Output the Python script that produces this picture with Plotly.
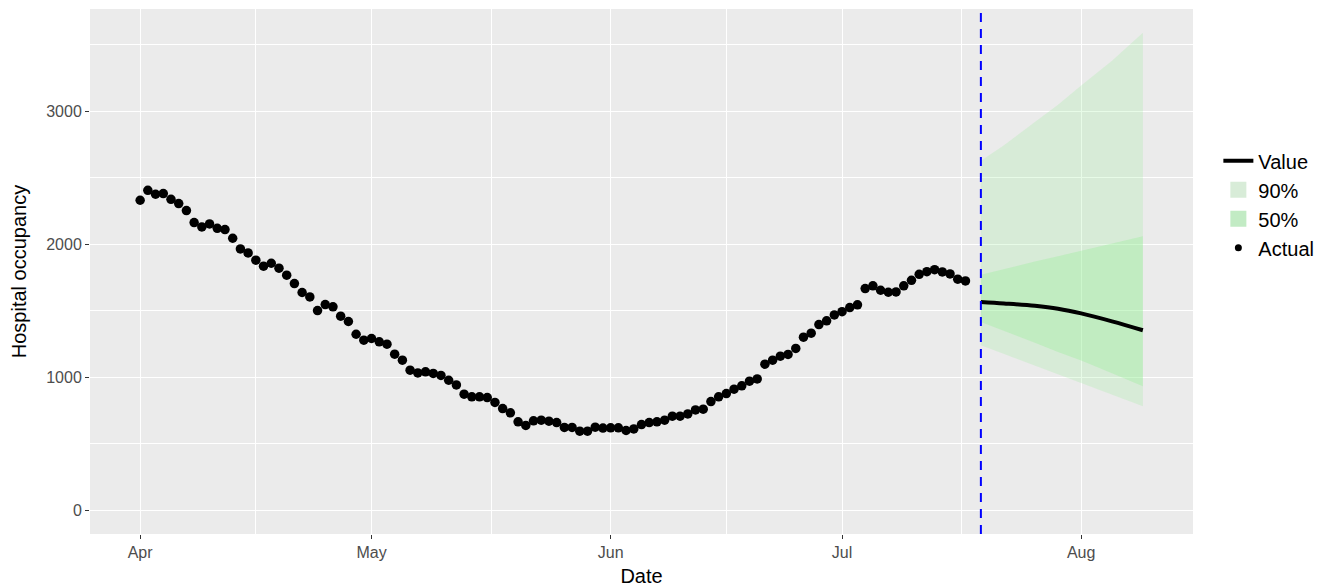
import pandas as pd
import plotly.graph_objects as go

# ---------------- data ----------------
actual_start = "2020-04-01"
actual_values = [
    2331, 2406, 2376, 2381, 2338, 2306, 2253, 2163, 2130, 2153,
    2120, 2110, 2045, 1965, 1935, 1880, 1835, 1857, 1820, 1767,
    1704, 1637, 1604, 1501, 1546, 1529, 1459, 1419, 1323, 1278,
    1291, 1266, 1248, 1173, 1128, 1053, 1032, 1040, 1028, 1013,
    977, 942, 872, 852, 852, 847, 810, 764, 732, 664,
    637, 672, 677, 669, 659, 622, 622, 594, 594, 624,
    617, 619, 619, 599, 611, 644, 659, 664, 677, 707,
    707, 724, 754, 759, 817, 852, 877, 910, 935, 970,
    987, 1098, 1128, 1158, 1171, 1216, 1301, 1331, 1396, 1424,
    1468, 1493, 1524, 1544, 1667, 1687, 1654, 1639, 1641, 1687,
    1729, 1774, 1794, 1809, 1792, 1777, 1737, 1724,
]
actual_dates = pd.date_range(actual_start, periods=len(actual_values), freq="D")

forecast_dates = pd.to_datetime([
    "2020-07-19", "2020-07-22", "2020-07-26", "2020-07-29",
    "2020-08-01", "2020-08-05", "2020-08-09",
])
forecast_value = [1566, 1555, 1537, 1515, 1480, 1420, 1353]
upper_90 = [2628, 2745, 2920, 3050, 3195, 3380, 3590]
lower_90 = [1241, 1175, 1090, 1025, 960, 870, 782]
upper_50 = [1770, 1815, 1870, 1910, 1950, 2005, 2060]
lower_50 = [1416, 1350, 1260, 1190, 1125, 1030, 932]

month_ticks = pd.to_datetime(["2020-04-01", "2020-05-01", "2020-06-01", "2020-07-01", "2020-08-01"])
month_labels = ["Apr", "May", "Jun", "Jul", "Aug"]
y_ticks = [0, 1000, 2000, 3000]

# ---------------- styles ----------------
FONT = "Liberation Sans, Arial, sans-serif"
BG = "#EBEBEB"
FILL_90 = "rgba(144,238,144,0.22)"
FILL_50 = "rgba(144,238,144,0.30)"
KEY_90 = "#D8ECD8"
KEY_50 = "#C2EBC4"

# x range: ggplot default 5% expansion
x_min = actual_dates[0]
x_max = forecast_dates[-1]
span = x_max - x_min
x_range = [x_min - span * 0.05, x_max + span * 0.05]
y_lo, y_hi = 0, max(upper_90)
y_range = [y_lo - (y_hi - y_lo) * 0.05, y_hi + (y_hi - y_lo) * 0.05]

# minor breaks midway between major breaks
all_major = [month_ticks[0] - pd.DateOffset(months=1)] + list(month_ticks) + [month_ticks[-1] + pd.DateOffset(months=1)]
minor_x = [a + (b - a) / 2 for a, b in zip(all_major[:-1], all_major[1:])]

fig = go.Figure()

# 90% ribbon
fig.add_trace(go.Scatter(x=forecast_dates, y=lower_90, mode="lines",
                         line=dict(width=0, color=FILL_90), showlegend=False, hoverinfo="skip"))
fig.add_trace(go.Scatter(x=forecast_dates, y=upper_90, mode="lines", fill="tonexty",
                         fillcolor=FILL_90, line=dict(width=0, color=FILL_90),
                         showlegend=False, legendgroup="g90"))
# 50% ribbon
fig.add_trace(go.Scatter(x=forecast_dates, y=lower_50, mode="lines",
                         line=dict(width=0, color=FILL_50), showlegend=False, hoverinfo="skip"))
fig.add_trace(go.Scatter(x=forecast_dates, y=upper_50, mode="lines", fill="tonexty",
                         fillcolor=FILL_50, line=dict(width=0, color=FILL_50),
                         showlegend=False, legendgroup="g50"))
# forecast value
fig.add_trace(go.Scatter(x=forecast_dates, y=forecast_value, mode="lines",
                         line=dict(color="black", width=4, shape="spline"),
                         name="Value", legendrank=1))
# actual points
fig.add_trace(go.Scatter(x=actual_dates, y=actual_values, mode="markers",
                         marker=dict(color="black", size=9.5),
                         name="Actual", showlegend=False, legendgroup="ga"))
# legend keys
fig.add_trace(go.Scatter(x=[None], y=[None], mode="markers", name="90%", legendrank=2,
                         legendgroup="g90",
                         marker=dict(symbol="square", size=16, color=KEY_90)))
fig.add_trace(go.Scatter(x=[None], y=[None], mode="markers", name="50%", legendrank=3,
                         legendgroup="g50",
                         marker=dict(symbol="square", size=16, color=KEY_50)))
fig.add_trace(go.Scatter(x=[None], y=[None], mode="markers", name="Actual", legendrank=4,
                         legendgroup="ga",
                         marker=dict(color="black", size=7)))

# forecast start line
fig.add_shape(type="line", xref="x", yref="paper",
              x0=forecast_dates[0], x1=forecast_dates[0], y0=0, y1=1,
              line=dict(color="#0000FF", width=2, dash="9px,7px"))

fig.update_layout(
    width=1323, height=579,
    paper_bgcolor="white", plot_bgcolor=BG,
    margin=dict(l=82, r=138, t=1, b=53),
    font=dict(family=FONT, color="black"),
    legend=dict(x=1.023, xanchor="left", y=0.748, yanchor="top",
                font=dict(size=20, color="black"), itemwidth=30,
                traceorder="normal",
                bgcolor="rgba(255,255,255,0)", tracegroupgap=0),
    showlegend=True,
)
fig.update_xaxes(
    range=x_range, tickmode="array", tickvals=month_ticks, ticktext=month_labels,
    showgrid=True, gridcolor="white", gridwidth=1.4, zeroline=False,
    ticks="outside", ticklen=4, tickcolor="#333333", tickwidth=1,
    tickfont=dict(size=16, color="#4D4D4D"),
    minor=dict(tickmode="array", tickvals=minor_x, showgrid=True, gridcolor="white", gridwidth=0.6),
    title=dict(text="Date", font=dict(size=20, color="black"), standoff=8),
    showline=False,
)
fig.update_yaxes(
    range=y_range, tickmode="array", tickvals=y_ticks,
    showgrid=True, gridcolor="white", gridwidth=1.4, zeroline=False,
    ticks="outside", ticklen=4, tickcolor="#333333", tickwidth=1,
    tickfont=dict(size=16, color="#4D4D4D"),
    minor=dict(dtick=500, showgrid=True, gridcolor="white", gridwidth=0.6),
    title=dict(text="Hospital occupancy", font=dict(size=20, color="black"), standoff=14),
    showline=False,
)

fig.write_html("out.html")
